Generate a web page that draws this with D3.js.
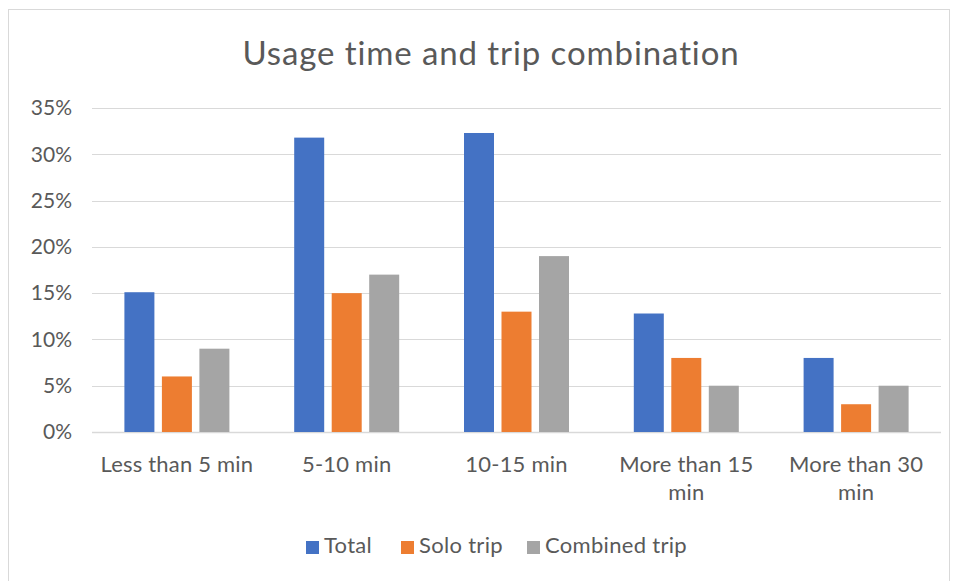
<!DOCTYPE html>
<html>
<head>
<meta charset="utf-8">
<script src="https://cdn.jsdelivr.net/npm/d3@7"></script>
<style>
  html, body { margin: 0; padding: 0; background: #fff; }
  svg { display: block; font-family: Lato, "Open Sans", sans-serif; }
</style>
</head>
<body>
<svg id="chart" width="959" height="581"></svg>
<script>
// Share of trips by usage time
const categories = [["Less than 5 min"], ["5-10 min"], ["10-15 min"], ["More than 15", "min"], ["More than 30", "min"]];
const seriesNames = ["Total", "Solo trip", "Combined trip"];
const total    = [15.1, 31.8, 32.3, 12.8, 8.0];
const solo     = [6, 15, 13, 8, 3];
const combined = [9, 17, 19, 5, 5];
const yTicks = [0, 5, 10, 15, 20, 25, 30, 35];
const colors = ["#4472C4", "#ED7D31", "#A5A5A5"];

const series = [total, solo, combined];
const svg = d3.select("#chart");
const W = 959, H = 581;
const m = { left: 92, right: 18, top: 108, bottom: 149 };
const textColor = "#595959";

// chart frame
svg.append("rect")
  .attr("x", 8.5).attr("y", 9.5).attr("width", 941).attr("height", 590)
  .attr("fill", "#fff").attr("stroke", "#D9D9D9").attr("stroke-width", 1);

const x = d3.scaleBand().domain(d3.range(categories.length))
  .range([m.left, W - m.right]).paddingInner(0).paddingOuter(0);
const y = d3.scaleLinear().domain([0, 35]).range([H - m.bottom, m.top]);

// grid lines
svg.append("g").selectAll("line").data(yTicks).join("line")
  .attr("x1", m.left).attr("x2", W - m.right)
  .attr("y1", d => Math.round(y(d)) + 0.5).attr("y2", d => Math.round(y(d)) + 0.5)
  .attr("stroke", "#D9D9D9").attr("stroke-width", d => d === 0 ? 1.5 : 1.2);

// y axis labels
const yAxis = d3.axisLeft(y).tickValues(yTicks).tickFormat(d => d + "%").tickSize(0).tickPadding(0);
const gy = svg.append("g").attr("transform", `translate(${72},0)`).call(yAxis);
gy.select(".domain").remove();
gy.selectAll("text").attr("fill", textColor)
  .style("font-size", "21px")
  .style("font-family", "Lato, 'Open Sans', sans-serif");

// bars
const bw = 30, gap = 7.5;
const groupW = 3 * bw + 2 * gap;
series.forEach((vals, si) => {
  svg.append("g").selectAll("rect").data(vals).join("rect")
    .attr("x", (d, i) => x(i) + (x.bandwidth() - groupW) / 2 + si * (bw + gap))
    .attr("width", bw)
    .attr("y", d => y(d))
    .attr("height", d => y(0) - y(d))
    .attr("fill", colors[si]);
});

// category labels
const gx = svg.append("g");
categories.forEach((lines, i) => {
  const cx = x(i) + x.bandwidth() / 2;
  const t = gx.append("text")
    .attr("x", cx)
    .attr("y", 472)
    .attr("text-anchor", "middle")
    .attr("fill", textColor)
    .style("font-size", "22px")
    .style("letter-spacing", "0.2px");
  lines.forEach((ln, k) => {
    t.append("tspan").attr("x", cx).attr("dy", k === 0 ? 0 : 28).text(ln);
  });
});

// title
svg.append("text")
  .attr("x", 491).attr("y", 65)
  .attr("text-anchor", "middle")
  .attr("fill", textColor)
  .style("font-size", "33px")
  .style("letter-spacing", "0.9px")
  .text("Usage time and trip combination");

// legend
const legendX = [306, 401, 527];
const lg = svg.append("g");
seriesNames.forEach((name, i) => {
  lg.append("rect").attr("x", legendX[i]).attr("y", 541).attr("width", 13).attr("height", 13).attr("fill", colors[i]);
  lg.append("text").attr("x", legendX[i] + 18).attr("y", 553)
    .attr("fill", textColor).style("font-size", "22px").style("letter-spacing", "0.3px").text(name);
});
</script>
</body>
</html>
